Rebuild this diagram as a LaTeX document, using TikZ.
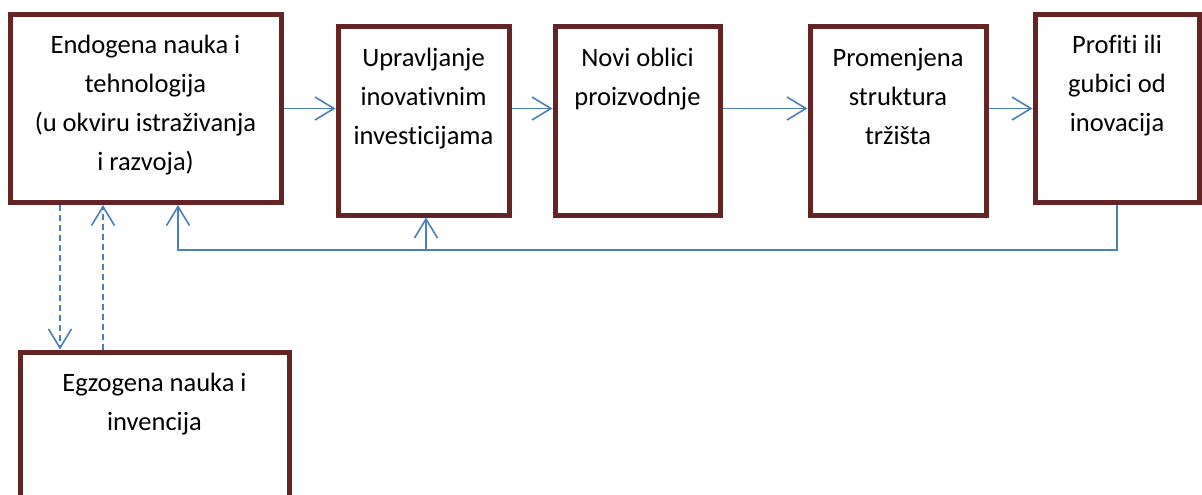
\documentclass[tikz,border=0pt]{standalone}
\usepackage{fontspec}
\setmainfont{Carlito}[Ligatures=NoCommon]
\usetikzlibrary{arrows.meta,calc}
\definecolor{boxred}{HTML}{632423}
\definecolor{flowblue}{HTML}{4A7EBB}
\tikzset{
  stagebox/.style={draw=boxred, line width=5pt, outer sep=2.5pt, inner sep=0pt, fill=white},
  stagetext/.style={anchor=north, align=center, inner sep=0pt, font=\fontsize{26.5}{39}\selectfont},
  flow/.style={draw=flowblue, line width=1.5pt, -{Straight Barb[length=19pt,width=23pt,line width=1.6pt]}},
  dashflow/.style={flow, dash pattern=on 6pt off 4pt}
}
\begin{document}
\begin{tikzpicture}[x=1pt,y=-1pt]
\useasboundingbox (0,0) rectangle (1202,495);

% stage boxes
\node[stagebox, minimum width=271pt, minimum height=188pt] (b1) at (145.5,108.5) {};
\node[stagebox, minimum width=171pt, minimum height=188pt] (b2) at (423.5,121) {};
\node[stagebox, minimum width=165pt, minimum height=188pt] (b3) at (637.5,121) {};
\node[stagebox, minimum width=176pt, minimum height=188pt] (b4) at (898,121) {};
\node[stagebox, minimum width=164pt, minimum height=188pt] (b5) at (1117,108.5) {};
\node[stagebox, minimum width=269pt, minimum height=170pt] (b6) at (154.5,437) {};

% box captions
\node[stagetext] (t1) at ($(b1.north)+(0,14)$) {\strut Endogena nauka i\\tehnologija\\(u okviru istraživanja\\i razvoja)};
\node[stagetext] (t2) at ($(b2.north)+(0,14)$) {\strut Upravljanje\\inovativnim\\investicijama};
\node[stagetext] (t3) at ($(b3.north)+(0,14)$) {\strut Novi oblici\\proizvodnje};
\node[stagetext] (t4) at ($(b4.north)+(0,14)$) {\strut Promenjena\\struktura\\tržišta};
\node[stagetext] (t5) at ($(b5.north)+(0,14)$) {\strut Profiti ili\\gubici od\\inovacija};
\node[stagetext] (t6) at ($(b6.north)+(0,14)$) {\strut Egzogena nauka i\\invencija};

% main chain
\draw[flow] (b1.east) -- (b1.east -| b2.west);
\draw[flow] (b2.east |- b1.east) -- (b3.west |- b1.east);
\draw[flow] (b3.east |- b1.east) -- (b4.west |- b1.east);
\draw[flow] (b4.east |- b1.east) -- (b5.west |- b1.east);

% feedback loop
\coordinate (fbL) at (178,250);
\coordinate (fbM) at (426,250);
\draw[flow] (b5.south) |- (fbL) -- (fbL |- b1.south);
\draw[flow] (fbM) -- (fbM |- b2.south);

% exchange with exogenous science
\coordinate (dx1) at (60,0);
\coordinate (dx2) at (103,0);
\draw[dashflow] (b1.south -| dx1) -- (b6.north -| dx1);
\draw[dashflow] (b6.north -| dx2) -- (b1.south -| dx2);
\end{tikzpicture}
\end{document}
